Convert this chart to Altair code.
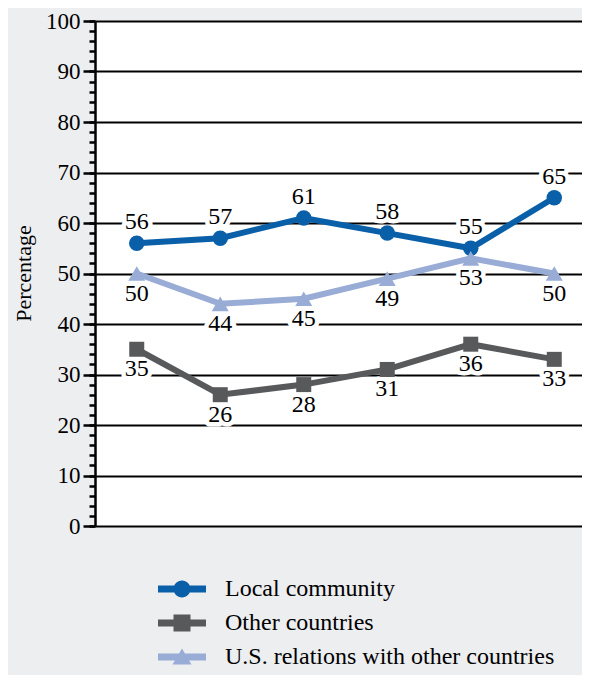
import altair as alt
import pandas as pd

years = ["1974", "1978", "1982", "1986", "1990", "1994"]
series_names = ["Local community", "Other countries", "U.S. relations with other countries"]
local_vals = [56, 57, 61, 58, 55, 65]
other_vals = [35, 26, 28, 31, 36, 33]
usrel_vals = [50, 44, 45, 49, 53, 50]
label_pos = ["above", "below", "below"]
colors = ["#0a60a8", "#58595b", "#98acd6"]
point_shapes = ["circle", "square", "triangle-up"]
point_sizes = [240, 225, 290]
major_ticks = list(range(0, 101, 10))
minor_ticks = list(range(0, 101, 2))

rows = []
for name, vals, pos in zip(series_names, [local_vals, other_vals, usrel_vals], label_pos):
    for yr, v in zip(years, vals):
        rows.append({"year": yr, "series": name, "value": v, "pos": pos})
df = pd.DataFrame(rows)

FONT = "Liberation Serif"

legend_paths = [
    "M-2.4,-0.35H2.4V0.35H-2.4Z M-0.85,0 A0.85,0.85 0 1 1 0.85,0 A0.85,0.85 0 1 1 -0.85,0 Z",
    "M-2.4,-0.35H2.4V0.35H-2.4Z M-0.85,-0.85H0.85V0.85H-0.85Z",
    "M-2.4,-0.35H2.4V0.35H-2.4Z M0,-0.85L0.95,0.75H-0.95Z",
]

xscale = alt.Scale(type="band", domain=years, paddingInner=0, paddingOuter=0)
yscale = alt.Scale(domain=[0, 100], nice=False, zero=True)
color_scale = alt.Scale(domain=series_names, range=colors)

x_axis = alt.Axis(
    title=None, labelAngle=0, tickBand="extent", tickSize=10, tickWidth=2.5,
    tickColor="black", domainColor="black", domainWidth=2.5,
    labelFontSize=23, labelFont=FONT, labelColor="black", labelPadding=3,
    grid=False,
)
y_axis_major = alt.Axis(
    values=major_ticks, tickSize=12, tickWidth=2.5, tickColor="black",
    domainColor="black", domainWidth=2.5, grid=True, gridColor="black",
    gridWidth=2, gridOpacity=1, labelFontSize=23, labelFont=FONT,
    labelColor="black", labelPadding=3, title="Percentage",
    titleFont=FONT, titleFontSize=22, titleFontWeight="normal",
    titleColor="black", titleX=-72, titleY=252, titleAngle=-90,
    titleAlign="center", titleBaseline="middle", orient="left",
)
y_axis_minor = alt.Axis(
    values=minor_ticks, tickSize=6, tickWidth=2.5, tickColor="black",
    labels=False, grid=False, domain=False, title=None, orient="left",
)

base = alt.Chart(df)

axis_layer = base.mark_point(opacity=0).encode(
    x=alt.X("year:O", scale=xscale, axis=x_axis),
    y=alt.Y("value:Q", scale=yscale, axis=y_axis_major),
)
minor_axis_layer = base.mark_point(opacity=0).encode(
    x=alt.X("year:O", scale=xscale, axis=None),
    y=alt.Y("value:Q", scale=yscale, axis=y_axis_minor),
)

def xy():
    return dict(
        x=alt.X("year:O", scale=xscale, axis=None),
        y=alt.Y("value:Q", scale=yscale, axis=None),
    )

series_layers = []
for name, col in zip(series_names, colors):
    series_layers.append(
        base.transform_filter(alt.datum.series == name)
        .mark_line(strokeWidth=6, color=col)
        .encode(**xy())
    )
for name, col, shp, sz in zip(series_names, colors, point_shapes, point_sizes):
    series_layers.append(
        base.transform_filter(alt.datum.series == name)
        .mark_point(filled=True, opacity=1, shape=shp, size=sz, color=col)
        .encode(**xy())
    )

LABEL_DY = {"above": -21, "below": 20}

halo_layers = []
text_layers = []
for pos, dy in LABEL_DY.items():
    d = base.transform_filter(alt.datum.pos == pos)
    halo_layers.append(
        d.mark_text(
            dy=dy, font=FONT, fontSize=24, stroke="white", strokeWidth=9,
            strokeJoin="round", fill="white", baseline="middle", align="center",
        ).encode(text="value:Q", **xy())
    )
    text_layers.append(
        d.mark_text(
            dy=dy, font=FONT, fontSize=24, fill="black", baseline="middle", align="center",
        ).encode(text="value:Q", **xy())
    )

legend_layer = base.transform_filter("false").mark_point(filled=True, opacity=1).encode(
    color=alt.Color(
        "series:N", scale=color_scale,
        legend=alt.Legend(
            title=None, orient="none", legendX=75, legendY=556, padding=0,
            symbolSize=400, labelOffset=31, labelFont=FONT, labelFontSize=24,
            labelColor="black", rowPadding=10, symbolOpacity=1,
            symbolStrokeWidth=0, labelLimit=500,
        ),
    ),
    shape=alt.Shape("series:N", scale=alt.Scale(domain=series_names, range=legend_paths)),
    **xy(),
)

chart = alt.layer(
    axis_layer, minor_axis_layer, *halo_layers, *series_layers,
    *text_layers, legend_layer,
).resolve_axis(y="independent").properties(
    width=501, height=505,
    autosize=alt.AutoSizeParams(type="none"),
    padding={"left": 87, "top": 13, "right": -14, "bottom": 149},
    background="#edeef0",
).configure(font=FONT).configure_view(fill="white", stroke=None)

chart.save("out.html", embed_options={"renderer": "svg", "actions": False})
